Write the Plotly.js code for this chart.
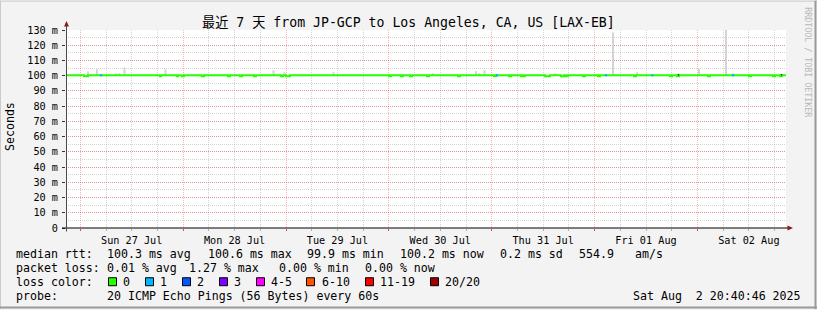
<!DOCTYPE html>
<html><head><meta charset="utf-8">
<script src="https://cdn.plot.ly/plotly-3.0.1.min.js"></script>
<style>html,body{margin:0;padding:0;background:#f3f3f3;overflow:hidden}#chart{width:817px;height:310px}</style>
</head><body><div id="chart"></div>
<script>
// ---- data ----
const rangeStart = '2025-07-26 20:40';
const rangeEnd   = '2025-08-02 20:40';

const medianTimes = [
 '2025-07-26 20:40','2025-07-27 00:52','2025-07-27 01:48','2025-07-27 18:36','2025-07-27 18:50',
 '2025-07-27 22:34','2025-07-27 22:48','2025-07-27 23:40','2025-07-28 00:12','2025-07-28 04:20',
 '2025-07-28 04:52','2025-07-28 10:28','2025-07-28 10:56','2025-07-28 13:16','2025-07-28 13:44',
 '2025-07-28 16:32','2025-07-28 17:00','2025-07-28 22:50','2025-07-28 23:18','2025-07-29 00:00',
 '2025-07-29 00:56','2025-07-30 00:02','2025-07-30 00:30','2025-07-30 02:50','2025-07-30 03:18',
 '2025-07-30 04:56','2025-07-30 05:24','2025-07-30 08:54','2025-07-30 09:22','2025-07-30 16:08',
 '2025-07-30 16:36','2025-07-31 00:32','2025-07-31 01:00','2025-07-31 04:02','2025-07-31 04:30',
 '2025-07-31 06:50','2025-07-31 07:18','2025-07-31 07:32','2025-07-31 07:46','2025-07-31 12:26',
 '2025-07-31 13:36','2025-07-31 16:10','2025-07-31 16:52','2025-07-31 17:20','2025-07-31 17:48',
 '2025-07-31 21:18','2025-07-31 21:46','2025-08-01 00:48','2025-08-01 01:16','2025-08-01 09:12',
 '2025-08-01 09:40','2025-08-01 17:36','2025-08-01 18:04','2025-08-01 19:14','2025-08-01 19:42',
 '2025-08-02 02:28','2025-08-02 02:56','2025-08-02 12:02','2025-08-02 12:30','2025-08-02 17:38',
 '2025-08-02 18:06','2025-08-02 19:16','2025-08-02 19:44','2025-08-02 20:40'];
const medianValues = [
 100.3,99.6,100.3,99.6,100.3, 99.6,100.3,99.6,100.3,99.6,
 100.3,99.6,100.3,99.6,100.3, 99.6,100.3,99.6,100.3,99.6,
 100.3,99.6,100.3,99.6,100.3, 99.6,100.3,99.6,100.3,99.6,
 100.3,99.6,100.3,99.6,100.3, 99.6,100.3,99.6,100.3,99.6,
 100.3,99.6,100.3,99.6,100.3, 99.6,100.3,99.6,100.3,99.6,
 100.3,99.6,100.3,99.6,100.3, 99.6,100.3,99.6,100.3,99.6,
 100.3,99.6,100.3,100.3];

const loss1Times  = ['2025-07-27 04:50','2025-07-31 01:14','2025-08-01 02:40','2025-08-01 13:29','2025-08-02 08:18'];
const loss1Values = [100.3,100.3,100.3,100.3,100.3];

const lossDarkTimes  = ['2025-08-01 19:35','2025-08-02 19:37'];
const lossDarkValues = [100.6,100.6];

const smokeTimes = [
 '2025-07-27 01:48','2025-07-27 03:54','2025-07-27 08:20','2025-07-27 09:02','2025-07-27 10:19',
 '2025-07-27 19:53','2025-07-28 21:05','2025-07-28 23:39','2025-07-29 11:05','2025-07-30 10:18',
 '2025-07-30 20:20','2025-07-30 21:02','2025-07-30 22:19','2025-07-31 14:46','2025-08-01 04:18',
 '2025-08-01 09:54','2025-08-02 00:22','2025-08-02 06:40','2025-08-02 08:18'];
const smokeTop = [
 102.9,104.2,101.6,101.6,105.5, 104.2,103.6,102.3,102.3,101.6,
 102.9,101.6,103.6,101.6,128.4, 102.3,104.8,130.5,101.6];
const smokeBase = 100.0;

const yTickVals = [0,10,20,30,40,50,60,70,80,90,100,110,120,130];
const yTickText = ['0','10 m','20 m','30 m','40 m','50 m','60 m','70 m','80 m','90 m','100 m','110 m','120 m','130 m'];

const titleText = '最近 7 天 from JP-GCP to Los Angeles, CA, US [LAX-EB]';
const statRows = [
 {label:'median rtt:',  items:['100.3 ms avg','100.6 ms max','99.9 ms min','100.2 ms now','0.2 ms sd','554.9','am/s']},
 {label:'packet loss:', items:['0.01 % avg','1.27 % max','0.00 % min','0.00 % now']},
 {label:'probe:',       items:['20 ICMP Echo Pings (56 Bytes) every 60s']}
];
const lossLabels = ['0','1','2','3','4-5','6-10','11-19','20/20'];
const lossColors = ['#26ff00','#00b8ff','#0059ff','#7e00ff','#ff00ff','#ff5500','#ff0000','#a10000'];
const stampText = 'Sat Aug\u00a0\u00a02 20:40:46 2025';
const watermark = 'RRDTOOL / TOBI OETIKER';

// ---- layout geometry (pixels) ----
const L=66, R=786, T=29.5, B=228.5;
const px = x => (x-L)/(R-L);
const py = y => (B-y)/(B-T);
const MONO = 'DejaVu Sans Mono, monospace';

const traces = [
 {type:'bar', x:smokeTimes, y:smokeTop.map(v=>v-smokeBase), base:smokeBase, width:28*60000,
  marker:{color:'#d4d4d4', line:{width:0}}, hoverinfo:'skip', showlegend:false},
 {type:'scatter', mode:'lines', x:medianTimes, y:medianValues,
  line:{color:lossColors[0], width:2, shape:'hv'}, hoverinfo:'skip', showlegend:false},
 {type:'scatter', mode:'markers', x:loss1Times, y:loss1Values,
  marker:{symbol:'square', size:2.2, color:lossColors[1], line:{width:0}}, hoverinfo:'skip', showlegend:false},
 {type:'scatter', mode:'markers', x:lossDarkTimes, y:lossDarkValues,
  marker:{symbol:'square', size:1.3, color:'#3a0c0c', line:{width:0}}, hoverinfo:'skip', showlegend:false}
];

const shapes = [];
const annotations = [];
// canvas frame
shapes.push({type:'line',xref:'paper',yref:'paper',x0:px(0),x1:px(817),y0:py(0.5),y1:py(0.5),line:{color:'#cbcbcb',width:1}});
shapes.push({type:'line',xref:'paper',yref:'paper',x0:px(0.5),x1:px(0.5),y0:py(0),y1:py(310),line:{color:'#cbcbcb',width:1}});
shapes.push({type:'line',xref:'paper',yref:'paper',x0:px(0),x1:px(817),y0:py(308.5),y1:py(308.5),line:{color:'#999999',width:2}});
shapes.push({type:'line',xref:'paper',yref:'paper',x0:px(815.5),x1:px(815.5),y0:py(0),y1:py(310),line:{color:'#999999',width:2}});
// axes lines and arrows
shapes.push({type:'line',xref:'paper',yref:'paper',x0:px(62),x1:px(788),y0:py(228.5),y1:py(228.5),line:{color:'#000',width:1}});
shapes.push({type:'line',xref:'paper',yref:'paper',x0:px(66.5),x1:px(66.5),y0:py(232),y1:py(25),line:{color:'#4a4a4a',width:1}});
shapes.push({type:'path',xref:'paper',yref:'paper',
  path:`M${px(64)},${py(26)} L${px(69)},${py(26)} L${px(66.5)},${py(20.5)} Z`, fillcolor:'#8b1a1a', line:{width:0}});
shapes.push({type:'path',xref:'paper',yref:'paper',
  path:`M${px(787.5)},${py(226)} L${px(787.5)},${py(231)} L${px(793)},${py(228.5)} Z`, fillcolor:'#8b1a1a', line:{width:0}});

// title, axis title, watermark
annotations.push({xref:'paper',yref:'paper',x:px(408.5),y:py(22),xanchor:'center',yanchor:'middle',showarrow:false,
  text:titleText.replace(/ /g,'\u00a0'),font:{family:'DejaVu Sans Mono, Noto Sans CJK JP, monospace',size:13.2,color:'#000'},borderpad:0,borderwidth:0});
annotations.push({xref:'paper',yref:'paper',x:px(10),y:py(127),xanchor:'center',yanchor:'middle',showarrow:false,textangle:-90,
  text:'Seconds',font:{family:MONO,size:11.6,color:'#000'},borderpad:0,borderwidth:0});
annotations.push({xref:'paper',yref:'paper',x:px(808),y:py(62),xanchor:'center',yanchor:'middle',showarrow:false,textangle:90,
  text:watermark.replace(/ /g,'\u00a0'),font:{family:MONO,size:8.3,color:'#b8b8b8'},borderpad:0,borderwidth:0});

// statistics rows
const rowY = [254.5, 268.5, 296.5];
const itemX = [[107,207.7,306.7,400,500,579,635],[107.3,188.7,278.7,365.3],[107.3]];
statRows.forEach((r,i)=>{
  annotations.push({xref:'paper',yref:'paper',x:px(16),y:py(rowY[i]),xanchor:'left',yanchor:'middle',showarrow:false,
    text:r.label.replace(/ /g,'\u00a0'),font:{family:MONO,size:11.6,color:'#000'},borderpad:0,borderwidth:0});
  r.items.forEach((t,j)=>{
    annotations.push({xref:'paper',yref:'paper',x:px(itemX[i][j]),y:py(rowY[i]),xanchor:'left',yanchor:'middle',showarrow:false,
      text:t.replace(/ /g,'\u00a0'),font:{family:MONO,size:11.6,color:'#000'},borderpad:0,borderwidth:0});
  });
});
// loss colour row
annotations.push({xref:'paper',yref:'paper',x:px(16),y:py(282.5),xanchor:'left',yanchor:'middle',showarrow:false,
  text:'loss\u00a0color:',font:{family:MONO,size:11.6,color:'#000'},borderpad:0,borderwidth:0});
const boxX = [108.5,145.5,182.5,219.5,256.5,306.5,365.5,430.5];
const labX = [123.3,160,197,234,271,321.7,380.3,445];
lossLabels.forEach((t,i)=>{
  shapes.push({type:'rect',xref:'paper',yref:'paper',x0:px(boxX[i]),x1:px(boxX[i]+8),y0:py(278.5),y1:py(286.5),
    fillcolor:lossColors[i],line:{color:'#000',width:1}});
  annotations.push({xref:'paper',yref:'paper',x:px(labX[i]),y:py(282.5),xanchor:'left',yanchor:'middle',showarrow:false,
    text:t,font:{family:MONO,size:11.6,color:'#000'},borderpad:0,borderwidth:0});
});
annotations.push({xref:'paper',yref:'paper',x:px(800.5),y:py(296.5),xanchor:'right',yanchor:'middle',showarrow:false,
  text:stampText,font:{family:MONO,size:11.6,color:'#000'},borderpad:0,borderwidth:0});

const layout = {
  width:817, height:310,
  margin:{l:L, r:817-R, t:T, b:310-B, pad:0},
  paper_bgcolor:'#f3f3f3', plot_bgcolor:'#ffffff',
  showlegend:false, barmode:'overlay',
  xaxis:{type:'date', range:[rangeStart,rangeEnd], tick0:'2025-07-27', dtick:86400000,
    ticklabelmode:'period', tickformat:'%a %d %b',
    showgrid:true, gridcolor:'rgba(255,0,0,0.3)', griddash:'1px,1px', gridwidth:1,
    ticks:'outside', ticklen:2, tickcolor:'#ff4040', tickwidth:1,
    tickfont:{family:MONO,size:10.2,color:'#000'}, ticklabelstandoff:1,
    showline:false, zeroline:false, fixedrange:true,
    minor:{dtick:21600000, tick0:'2025-07-27', showgrid:true, gridcolor:'rgba(128,128,128,0.33)', griddash:'1px,1px', gridwidth:1,
      ticks:'outside', ticklen:2, tickcolor:'#b0b0b0'}},
  yaxis:{range:[0,130], tickmode:'array', tickvals:yTickVals, ticktext:yTickText,
    showgrid:true, gridcolor:'rgba(255,0,0,0.3)', griddash:'1px,1px', gridwidth:1,
    ticks:'outside', ticklen:3, tickcolor:'#333', tickwidth:1,
    tickfont:{family:MONO,size:10.2,color:'#000'}, ticklabelstandoff:2,
    showline:false, zeroline:false, fixedrange:true,
    minor:{dtick:5, tick0:0, showgrid:true, gridcolor:'rgba(128,128,128,0.33)', griddash:'1px,1px', gridwidth:1}},
  shapes:shapes, annotations:annotations
};
Plotly.newPlot('chart', traces, layout, {staticPlot:true, displayModeBar:false});
</script></body></html>
